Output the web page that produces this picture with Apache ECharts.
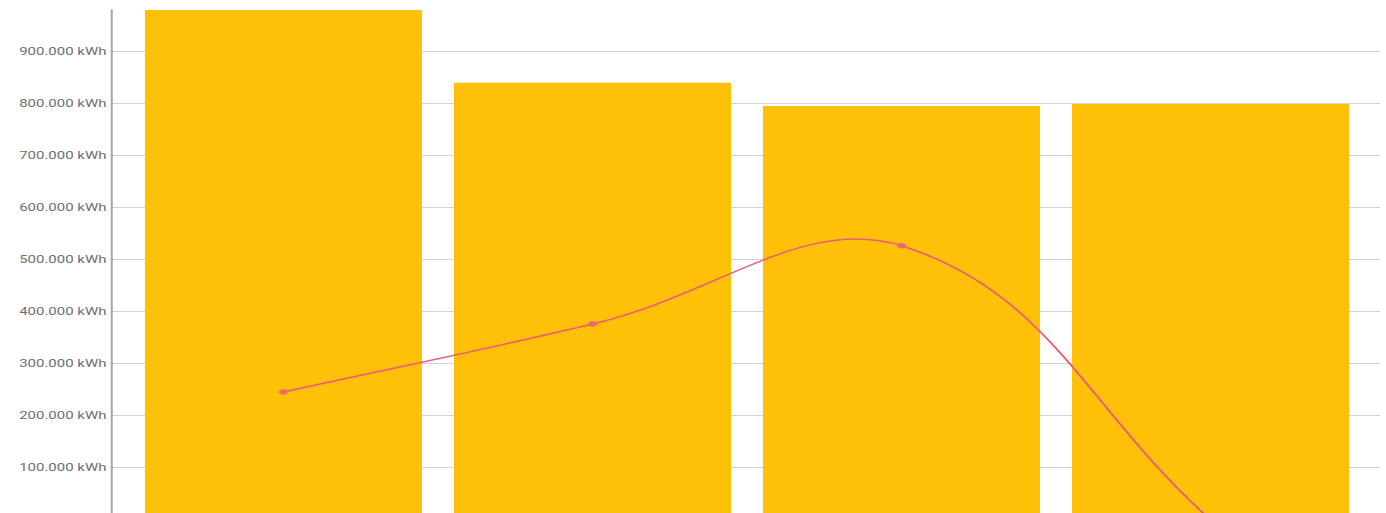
<!DOCTYPE html>
<html>
<head>
<meta charset="utf-8">
<script src="https://cdn.jsdelivr.net/npm/echarts@6/dist/echarts.min.js"></script>
<style>
  html, body { margin: 0; padding: 0; background: #ffffff; overflow: hidden; }
  #wrap { width: 1386px; height: 513px; overflow: hidden; }
  /* the chart is laid out narrow and widened horizontally */
  #chart { width: 924px; height: 525px; transform: scaleX(1.5); transform-origin: 0 0; }
</style>
</head>
<body>
<div id="wrap"><div id="chart"></div></div>
<script>
// period index of each bar
const periods = [0, 1, 2, 3];
// energy per period, kWh
const consumption = [980200, 840400, 795600, 799400];
// trend line, kWh
const trend = [245600, 376300, 526900, 0];
// y-axis tick step and unit
const tickStep = 100000;
const unit = 'kWh';

const lineColor = '#ee5c78';
const curveTension = 0.4;

function fmtKwh(v) {
  const s = String(Math.round(v)).replace(/\B(?=(\d{3})+(?!\d))/g, '.');
  return s + ' ' + unit;
}

// cardinal spline through the trend points, in pixel space
function trendPath(api) {
  const pts = periods.map((p, i) => api.coord([p, trend[i]]));
  const cps = pts.map((c, i) => {
    const prev = pts[i - 1] || c;
    const next = pts[i + 1] || c;
    const d01 = Math.hypot(c[0] - prev[0], c[1] - prev[1]);
    const d12 = Math.hypot(next[0] - c[0], next[1] - c[1]);
    const sum = (d01 + d12) || 1;
    const fa = curveTension * d01 / sum;
    const fb = curveTension * d12 / sum;
    const vx = next[0] - prev[0];
    const vy = next[1] - prev[1];
    return {
      inX: c[0] - fa * vx, inY: c[1] - fa * vy,
      outX: c[0] + fb * vx, outY: c[1] + fb * vy
    };
  });
  let d = 'M' + pts[0][0] + ' ' + pts[0][1];
  for (let i = 1; i < pts.length; i++) {
    d += ' C' + cps[i - 1].outX + ' ' + cps[i - 1].outY + ' ' +
         cps[i].inX + ' ' + cps[i].inY + ' ' + pts[i][0] + ' ' + pts[i][1];
  }
  return d;
}

const chart = echarts.init(document.getElementById('chart'), null, { renderer: 'svg' });

chart.setOption({
  animation: false,
  backgroundColor: '#ffffff',
  grid: { left: 74, right: 4, top: 10, bottom: 5.3, containLabel: false },
  xAxis: {
    type: 'value',
    min: -0.558,
    max: 3.5485,
    show: false
  },
  yAxis: {
    type: 'value',
    min: 0,
    max: 'dataMax',
    interval: tickStep,
    axisLine: { show: true, onZero: false, lineStyle: { color: '#a8a8a8', width: 1.4 } },
    axisTick: { show: false },
    axisLabel: {
      margin: 3,
      color: '#6f6f6f',
      fontSize: 10,
      fontFamily: 'Roboto',
      showMaxLabel: false,
      showMinLabel: false,
      formatter: fmtKwh
    },
    splitLine: {
      show: true,
      showMaxLine: false,
      lineStyle: { color: '#d2d2d2', width: 1 }
    }
  },
  series: [
    {
      type: 'bar',
      barWidth: 184.7,
      itemStyle: { color: '#ffc107' },
      data: periods.map((p, i) => [p, consumption[i]])
    },
    {
      type: 'custom',
      z: 3,
      silent: true,
      data: periods.map((p, i) => [p, trend[i]]),
      renderItem: function (params, api) {
        if (params.dataIndex !== 0) return null;
        return {
          type: 'path',
          shape: { pathData: trendPath(api) },
          style: { fill: 'none', stroke: lineColor, lineWidth: 1.5 }
        };
      }
    },
    {
      type: 'scatter',
      z: 4,
      symbol: 'circle',
      symbolSize: 6,
      itemStyle: { color: lineColor },
      data: periods.map((p, i) => [p, trend[i]])
    }
  ]
});
</script>
</body>
</html>
